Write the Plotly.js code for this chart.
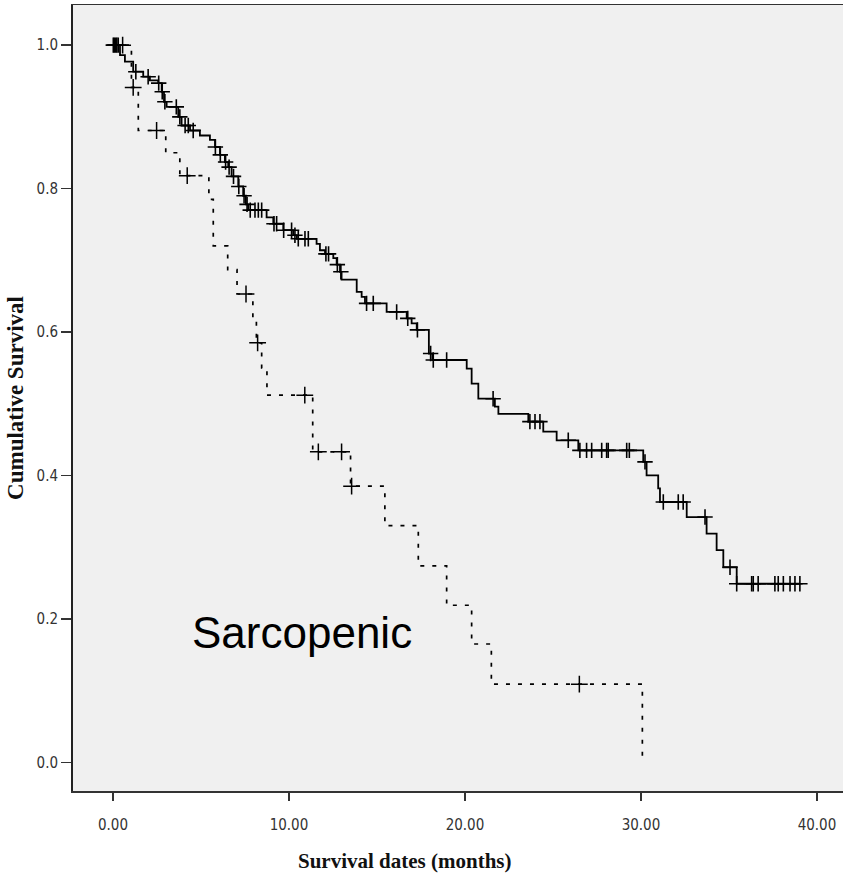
<!DOCTYPE html>
<html><head><meta charset="utf-8">
<script src="https://cdn.plot.ly/plotly-3.0.1.min.js"></script>
<style>html,body{margin:0;padding:0;background:#fff}</style>
</head><body>
<div id="chart" style="width:843px;height:877px"></div>
<script>
// Non-sarcopenic group (solid line): step times and survival after each step
const nonSarcTime = [0, 0.40, 0.68, 1.15, 1.72, 2.10, 2.57, 2.77, 2.90, 3.05, 3.71, 3.90, 4.38, 4.94, 5.51, 5.80, 6.08, 6.36, 6.55, 6.74, 7.12, 7.40, 7.55, 7.69, 8.73, 9.11, 9.68, 10.24, 10.45, 11.57, 11.76, 12.05, 12.52, 12.71, 12.90, 12.99, 13.85, 14.13, 14.32, 15.55, 16.69, 16.97, 17.26, 17.95, 18.15, 20.10, 20.38, 20.76, 21.70, 21.90, 23.60, 24.45, 25.21, 26.44, 30.13, 30.32, 30.98, 31.08, 32.60, 33.73, 34.30, 34.68, 35.44, 39.03];
const nonSarcSurv = [1.000, 0.986, 0.977, 0.963, 0.956, 0.951, 0.947, 0.935, 0.921, 0.914, 0.900, 0.888, 0.881, 0.874, 0.868, 0.858, 0.847, 0.837, 0.830, 0.817, 0.803, 0.790, 0.778, 0.770, 0.760, 0.751, 0.742, 0.735, 0.730, 0.723, 0.714, 0.709, 0.703, 0.694, 0.684, 0.673, 0.656, 0.649, 0.640, 0.628, 0.619, 0.612, 0.603, 0.570, 0.561, 0.549, 0.528, 0.507, 0.496, 0.486, 0.475, 0.461, 0.449, 0.435, 0.419, 0.400, 0.382, 0.363, 0.342, 0.319, 0.296, 0.272, 0.249, 0.249];
const nonSarcCensor = [0.02, 0.08, 0.15, 0.22, 0.30, 1.30, 2.00, 2.60, 2.80, 2.95, 3.60, 3.80, 4.10, 4.28, 4.56, 5.82, 6.10, 6.40, 6.60, 6.85, 7.15, 7.45, 7.62, 7.80, 8.07, 8.26, 8.45, 9.15, 9.30, 9.70, 10.15, 10.34, 10.53, 10.91, 11.10, 12.10, 12.25, 12.75, 12.95, 14.41, 14.79, 16.12, 16.75, 17.30, 18.05, 18.20, 18.96, 21.60, 23.69, 23.98, 24.26, 25.87, 26.53, 26.91, 27.20, 27.77, 28.05, 28.14, 29.19, 29.34, 30.23, 31.27, 32.12, 32.40, 33.64, 35.06, 35.44, 36.29, 36.38, 36.66, 37.61, 37.80, 38.09, 38.47, 38.75, 39.03];

// Sarcopenic group (dashed line)
const sarcTime = [0, 1.05, 1.44, 3.00, 3.80, 5.45, 5.70, 6.52, 7.05, 7.95, 8.15, 8.45, 8.75, 11.35, 13.50, 15.45, 17.35, 18.96, 20.38, 21.50, 30.08];
const sarcSurv = [1.000, 0.941, 0.881, 0.850, 0.818, 0.785, 0.720, 0.687, 0.653, 0.620, 0.585, 0.550, 0.512, 0.433, 0.385, 0.330, 0.274, 0.219, 0.165, 0.109, 0.000];
const sarcCensor = [0.55, 1.15, 2.48, 4.22, 7.56, 8.22, 10.90, 11.67, 12.99, 13.56, 26.50];

const xTicks = [0, 10, 20, 30, 40];
const xTickLabels = ['0.00', '10.00', '20.00', '30.00', '40.00'];
const yTicks = [0, 0.2, 0.4, 0.6, 0.8, 1.0];
const yTickLabels = ['0.0', '0.2', '0.4', '0.6', '0.8', '1.0'];
const groupLabel = 'Sarcopenic';

function survAt(times, surv, t) {
  let s = surv[0];
  for (let i = 0; i < times.length; i++) { if (times[i] <= t) s = surv[i]; }
  return s;
}

const tickFont = {family: 'Liberation Sans Narrow, Arial Narrow, DejaVu Sans Condensed, sans-serif', size: 15, color: '#333'};
const titleFont = {family: 'Liberation Serif, Times New Roman, serif', size: 21, color: '#111'};

const traces = [
  {x: nonSarcTime, y: nonSarcSurv, mode: 'lines', line: {shape: 'hv', color: '#000', width: 1.8}, hoverinfo: 'skip', showlegend: false},
  {x: nonSarcCensor, y: nonSarcCensor.map(t => survAt(nonSarcTime, nonSarcSurv, t)), mode: 'markers',
   marker: {symbol: 'cross-thin', size: 11, line: {color: '#000', width: 1.6}}, hoverinfo: 'skip', showlegend: false},
  {x: sarcTime, y: sarcSurv, mode: 'lines', line: {shape: 'hv', color: '#000', width: 1.7, dash: '4px,8px'}, hoverinfo: 'skip', showlegend: false},
  {x: sarcCensor, y: sarcCensor.map(t => survAt(sarcTime, sarcSurv, t)), mode: 'markers',
   marker: {symbol: 'cross-thin', size: 12, line: {color: '#000', width: 1.5}}, hoverinfo: 'skip', showlegend: false}
];

const layout = {
  width: 843, height: 877,
  margin: {l: 73, r: 0, t: 5, b: 86},
  paper_bgcolor: '#ffffff',
  plot_bgcolor: '#f0f0f0',
  showlegend: false,
  xaxis: {
    range: [-2.27, 41.48], tickvals: xTicks, ticktext: xTickLabels,
    ticks: 'outside', ticklen: 8, tickwidth: 1.5, tickcolor: '#333',
    showline: true, linecolor: '#333', linewidth: 1.5, mirror: true,
    showgrid: false, zeroline: false, tickfont: tickFont, ticklabelstandoff: 11
  },
  yaxis: {
    range: [-0.040, 1.056], tickvals: yTicks, ticktext: yTickLabels,
    ticks: 'outside', ticklen: 10, tickwidth: 1.5, tickcolor: '#333',
    showline: true, linecolor: '#222', linewidth: 2, mirror: false,
    showgrid: false, zeroline: false, tickfont: tickFont,
    title: {text: '<b>Cumulative Survival</b>', font: {family: 'Liberation Serif, Times New Roman, serif', size: 23, color: '#111'}, standoff: 6}
  },
  annotations: [
    {xref: 'paper', yref: 'paper', x: 0.431, y: -0.089, xanchor: 'center', yanchor: 'middle',
     text: '<b>Survival dates (months)</b>', showarrow: false, font: titleFont},
    {xref: 'x', yref: 'y', x: 4.40, y: 0.181, xanchor: 'left', yanchor: 'middle',
     text: groupLabel, showarrow: false, font: {family: 'Liberation Sans, Arial, sans-serif', size: 44, color: '#000'}}
  ]
};

Plotly.newPlot('chart', traces, layout, {displayModeBar: false, staticPlot: true});
</script>
</body></html>
